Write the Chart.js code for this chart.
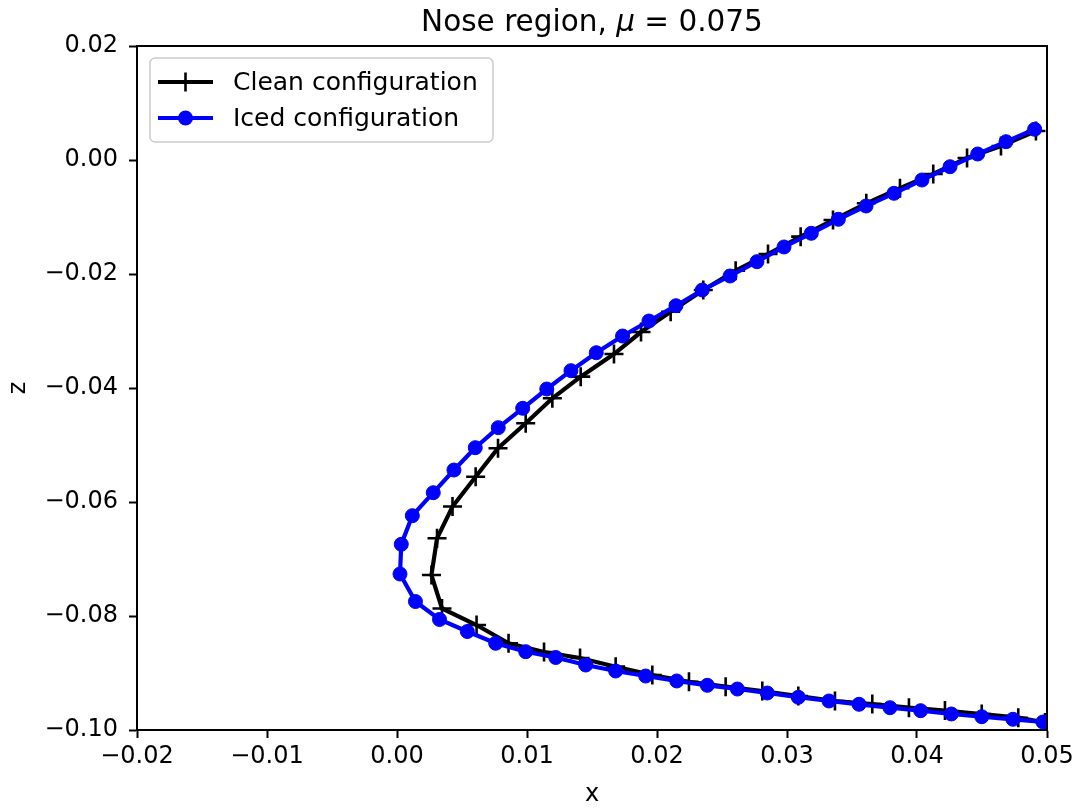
<!DOCTYPE html>
<html>
<head>
<meta charset="utf-8">
<title>Nose region</title>
<script src="https://cdn.jsdelivr.net/npm/chart.js@4.4.1/dist/chart.umd.min.js"></script>
<style>
  html, body { margin: 0; padding: 0; background: #fff; }
  canvas { display: block; }
</style>
</head>
<body>
<canvas id="grafico" width="1089" height="810"></canvas>
<script>
// clean profile (black, + markers)
const cleanX = [0.04915, 0.04646, 0.04385, 0.04125, 0.03869, 0.03610, 0.03354, 0.03105, 0.02854, 0.02605,
  0.02356, 0.02105, 0.01877, 0.01669, 0.01413, 0.01195, 0.00990, 0.00777, 0.00605, 0.00427,
  0.00308, 0.00265, 0.00346, 0.00612, 0.00858, 0.01131, 0.01408, 0.01682, 0.01964, 0.02246,
  0.02528, 0.02810, 0.03087, 0.03369, 0.03656, 0.03938, 0.04215, 0.04498, 0.04779, 0.04985];
const cleanZ = [0.00509, 0.00246, 0.00035, -0.00246, -0.00496, -0.00760, -0.01053, -0.01345, -0.01649, -0.01942,
  -0.02281, -0.02661, -0.03018, -0.03404, -0.03801, -0.04181, -0.04619, -0.05058, -0.05556, -0.06079,
  -0.06637, -0.07281, -0.07868, -0.08158, -0.08479, -0.08632, -0.08737, -0.08889, -0.09035, -0.09153,
  -0.09240, -0.09316, -0.09404, -0.09491, -0.09544, -0.09609, -0.09658, -0.09719, -0.09784, -0.09868];

// iced profile (blue, o markers)
const icedX = [0.04905, 0.04685, 0.04467, 0.04254, 0.04038, 0.03823, 0.03608, 0.03395, 0.03187, 0.02977,
  0.02769, 0.02562, 0.02348, 0.02146, 0.01938, 0.01735, 0.01533, 0.01338, 0.01152, 0.00967,
  0.00779, 0.00602, 0.00438, 0.00279, 0.00118, 0.00033, 0.00023, 0.00142, 0.00327, 0.00541,
  0.00759, 0.00990, 0.01221, 0.01452, 0.01682, 0.01913, 0.02152, 0.02387, 0.02618, 0.02848,
  0.03087, 0.03323, 0.03554, 0.03792, 0.04028, 0.04264, 0.04498, 0.04738, 0.04969];
const icedZ = [0.00539, 0.00321, 0.00105, -0.00118, -0.00351, -0.00584, -0.00807, -0.01040, -0.01286, -0.01526,
  -0.01784, -0.02035, -0.02281, -0.02556, -0.02825, -0.03088, -0.03381, -0.03696, -0.04018, -0.04356,
  -0.04696, -0.05047, -0.05439, -0.05837, -0.06240, -0.06742, -0.07263, -0.07746, -0.08061, -0.08272,
  -0.08479, -0.08626, -0.08728, -0.08860, -0.08965, -0.09053, -0.09140, -0.09216, -0.09281, -0.09351,
  -0.09426, -0.09491, -0.09549, -0.09609, -0.09661, -0.09719, -0.09767, -0.09812, -0.09860];

const seriesNames = ["Clean configuration", "Iced configuration"];
const titleParts = ["Nose region, ", "\u03bc", " = 0.075"];
const xLimits = [-0.02, 0.05];
const zLimits = [-0.10, 0.02];

const FONT = "'DejaVu Sans', sans-serif";
const LW = 4.2;

function puntos(xs, zs) {
  return xs.map((x, i) => ({ x: x, y: zs[i] }));
}

function etiqueta(v) {
  const s = Math.abs(v).toFixed(2);
  if (Number(s) === 0) return "0.00";
  return (v < 0 ? "\u2212" : "") + s;
}

// frame, title and legend like matplotlib
const extras = {
  id: "extras",
  afterDraw(chart) {
    const ctx = chart.ctx;
    const a = chart.chartArea;
    ctx.save();

    ctx.strokeStyle = "#000";
    ctx.lineWidth = 2;
    ctx.strokeRect(a.left, a.top, a.right - a.left, a.bottom - a.top);

    // title with italic mu
    const fonts = ["29.5px " + FONT, "italic 29.5px " + FONT, "29.5px " + FONT];
    let total = 0;
    const widths = titleParts.map((t, i) => {
      ctx.font = fonts[i];
      const w = ctx.measureText(t).width;
      total += w;
      return w;
    });
    let x = (a.left + a.right) / 2 - total / 2;
    ctx.fillStyle = "#000";
    ctx.textBaseline = "alphabetic";
    ctx.textAlign = "left";
    titleParts.forEach((t, i) => {
      ctx.font = fonts[i];
      ctx.fillText(t, x, 31);
      x += widths[i];
    });

    // legend box
    const bx = 150, by = 58, bw = 343, bh = 84;
    ctx.beginPath();
    ctx.roundRect(bx, by, bw, bh, 5);
    ctx.fillStyle = "rgba(255,255,255,0.8)";
    ctx.fill();
    ctx.strokeStyle = "#cccccc";
    ctx.lineWidth = 1.5;
    ctx.stroke();

    const rows = [82, 118];
    const colors = ["#000000", "#0000ff"];
    rows.forEach((ry, i) => {
      ctx.strokeStyle = colors[i];
      ctx.lineWidth = LW;
      ctx.beginPath();
      ctx.moveTo(158, ry);
      ctx.lineTo(213, ry);
      ctx.stroke();
      if (i === 0) {
        ctx.lineWidth = 2.6;
        ctx.beginPath();
        ctx.moveTo(185.5, ry - 9.5);
        ctx.lineTo(185.5, ry + 9.5);
        ctx.moveTo(176, ry);
        ctx.lineTo(195, ry);
        ctx.stroke();
      } else {
        ctx.fillStyle = colors[i];
        ctx.beginPath();
        ctx.arc(185.5, ry, 7.5, 0, Math.PI * 2);
        ctx.fill();
      }
      ctx.fillStyle = "#000";
      ctx.font = "25px " + FONT;
      ctx.textBaseline = "middle";
      ctx.fillText(seriesNames[i], 233, ry + 1);
    });

    ctx.restore();
  }
};

document.addEventListener("DOMContentLoaded", () => {
  const ctx = document.getElementById("grafico").getContext("2d");
  new Chart(ctx, {
    type: "scatter",
    data: {
      datasets: [{
        label: seriesNames[0],
        data: puntos(cleanX, cleanZ),
        showLine: true,
        borderColor: "#000000",
        backgroundColor: "#000000",
        borderWidth: LW,
        pointStyle: "cross",
        pointRadius: 9.5,
        pointBorderWidth: 2.6,
        pointBorderColor: "#000000",
        order: 2
      }, {
        label: seriesNames[1],
        data: puntos(icedX, icedZ),
        showLine: true,
        borderColor: "#0000ff",
        backgroundColor: "#0000ff",
        borderWidth: LW,
        pointStyle: "circle",
        pointRadius: 7,
        pointBorderWidth: 1,
        pointBorderColor: "#0000ff",
        order: 1
      }]
    },
    options: {
      responsive: false,
      animation: false,
      layout: { padding: { top: 46, right: 42, left: 0, bottom: 0 } },
      plugins: {
        legend: { display: false },
        tooltip: { enabled: false },
        title: { display: false }
      },
      scales: {
        x: {
          type: "linear",
          min: xLimits[0],
          max: xLimits[1],
          afterFit: s => { s.height = 80; },
          afterBuildTicks: s => {
            s.ticks = [];
            for (let i = 0; i <= 7; i++) s.ticks.push({ value: xLimits[0] + i * 0.01 });
          },
          ticks: {
            color: "#000",
            font: { family: FONT, size: 24 },
            padding: 4,
            maxRotation: 0,
            callback: v => etiqueta(v)
          },
          grid: { display: true, drawOnChartArea: false, drawTicks: true, tickLength: 8, tickWidth: 2, color: "#000" },
          border: { display: true, color: "#000", width: 2 },
          title: { display: true, text: "x", color: "#000", font: { family: FONT, size: 24 }, padding: { top: 0, bottom: 1 } }
        },
        y: {
          type: "linear",
          min: zLimits[0],
          max: zLimits[1],
          afterFit: s => { s.width = 137; },
          afterBuildTicks: s => {
            s.ticks = [];
            for (let i = 0; i <= 6; i++) s.ticks.push({ value: zLimits[0] + i * 0.02 });
          },
          ticks: {
            color: "#000",
            font: { family: FONT, size: 24 },
            padding: 11,
            callback: v => etiqueta(v)
          },
          grid: { display: true, drawOnChartArea: false, drawTicks: true, tickLength: 8, tickWidth: 2, color: "#000" },
          border: { display: true, color: "#000", width: 2 },
          title: { display: true, text: "z", color: "#000", font: { family: FONT, size: 24 }, padding: { top: 4, bottom: 0 } }
        }
      }
    },
    plugins: [extras]
  });
});
</script>
</body>
</html>
